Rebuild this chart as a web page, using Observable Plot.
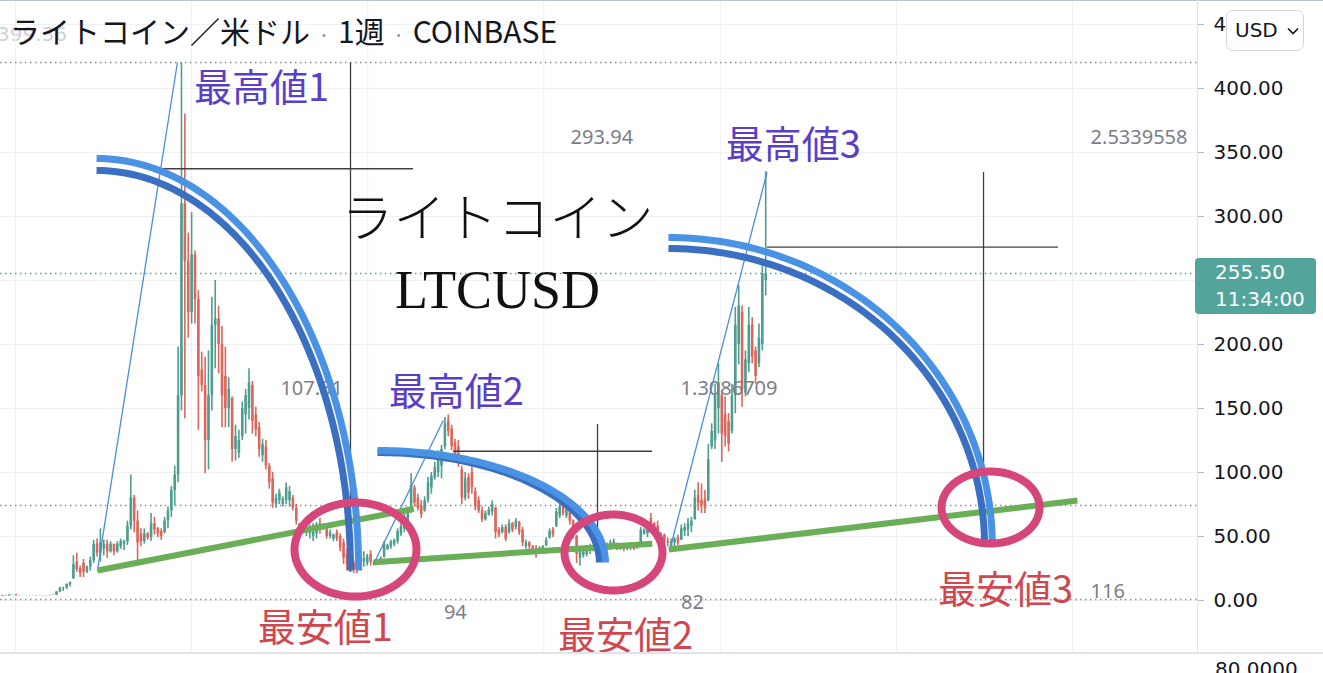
<!DOCTYPE html>
<html>
<head>
<meta charset="utf-8">
<script src="https://cdn.jsdelivr.net/npm/d3@7"></script>
<script src="https://cdn.jsdelivr.net/npm/@observablehq/plot@0.6"></script>
<style>
  html, body { margin: 0; padding: 0; background: #fff; }
  #wrap { position: relative; width: 1323px; height: 673px; overflow: hidden; background: #fff; }
  #wrap > svg { position: absolute; left: 0; top: 0; }
  #ghost { position: absolute; left: -3px; top: 22px; font: 20px "DejaVu Sans", sans-serif; color: #cfd1d6; }
  #title { position: absolute; left: 10px; top: 15px; font: 30px/30px "Noto Sans CJK JP", "Noto Sans", sans-serif; color: #131722; white-space: nowrap; }
  #title .sep { display: inline-block; width: 28px; text-align: center; color: #9598a1; font-size: 22px; }
  #usd { position: absolute; left: 1226px; top: 10px; width: 76px; height: 39px; border: 1px solid #d6d8de; border-radius: 7px; background: #fff;
         font: 20px/39px "DejaVu Sans", sans-serif; color: #131722; box-sizing: content-box; }
  #usd span { position: absolute; left: 8px; top: 0; }
  #usd svg { position: absolute; left: 60px; top: 16px; }
  #pricebox { position: absolute; left: 1195px; width: 121px; height: 56px; background: #53a59b; border-radius: 4px; color: #fff;
              font: 20px "DejaVu Sans", sans-serif; }
  #pricebox div { position: absolute; left: 20px; line-height: 20px; }
  #sub { position: absolute; left: 1215px; top: 659px; font: 20px/20px "DejaVu Sans", sans-serif; color: #131722; }
  .hsep { position: absolute; left: 0; top: 652px; width: 1323px; height: 2px; background: #e0e3eb; }
  .vsep { position: absolute; left: 1197px; top: 0; width: 1px; height: 652px; background: #e0e3eb; }
  .topline { position: absolute; left: 0; top: 0; width: 1323px; height: 1px; background: #b9c6cd; }
</style>
</head>
<body>
<div id="wrap">
  <div id="ghost">399.36</div>
</div>
<script>
// ---------- weekly OHLC, LTC/USD (Coinbase), first bar = week of 2016-11-28 ----------
const firstWeek = "2016-11-28";
const opens = [
  3.9,3.9,3.5,3.6,4.4,4.4,3.8,3.9,3.9,3.85,3.8,3.8,3.9,3.8,3.9,3.8,4.0,
  4.1,6.6,9.5,9.8,12.5,17,30,25,29,22,26,31,44,37,40,44,38,44,38,42,44,46,58,80,62,52,46,52,49,60,56,54,53,62,70,86,98,160,310,265,
  225,270,235,180,168,125,160,215,220,200,175,150,158,118,115,128,145,150,168,145,135,113,120,105,95,75,78,75,78,78,80,72,60,55,53,52,50,52,60,59,56,50,48,53,50,45,36,31,29,28,
  24,30,29,36,28,29.5,30,34,40,42,44,46,52,56,60,70,88,80,74,70,78,88,96,100,105,120,140,134,123,120,102,80,96,100,85,78,70,63,67,69,72,55,53,57,53,60,57,61,55,42,
  45,42,40,39,40,43,49,55,58,66,75,66,74,62,50,33,35,36,39,40,41,43,46,44,41,42,44,43,42,40,41,43,41,44,52,52,64,60,58,47,51,46,42,45,49,47,54,55,58,63,
  82,78,80,78,120,125,150,160,145,140,132,160,200,225,162,185,215,195,185,200,250
];
const highs = [
  4.1,4.0,3.8,4.5,4.6,4.6,4.0,4.0,4.0,4.0,3.9,4.0,3.95,4.0,4.0,4.0,4.2,
  7.0,10.4,10.4,13,14.5,35,37,27,32,27,34,47,48,56,47,47,46,44,46,48,47,62,98,82,70,56,56,53,68,65,57,56,65,73,89,105,198,420,380,287,
  303,273,242,194,190,195,237,250,230,214,198,174,159,137,133,155,165,181,171,151,139,126,125,107,100,83,87,81,92,89,82,75,60,58,57,59,60,61,64,60,57,55,52,55,52,48,40,34,31,31,
  36,38,36,39,31,32,34,46,44,47,48,56,60,68,73,99,90,83,78,81,96,100,108,117,121,143,145,137,126,125,105,100,99,105,88,81,73,70,73,78,73,57,59,59,63,61,64,62,57,47,
  46,43,43,42,43,49,56,57,72,76,82,77,78,63,51,42,40,43,44,43,45,47,47,45,47,48,45,44,43,44,45,43.5,45,57,56,58,68,61,62,53,52,49,48,49,51,59,60,64,65,86,
  92,91,86,122,138,169,185,164,159,146,169,229,246,230,195,229,221,198,216,262,335
];
const lows = [
  3.8,3.4,3.4,3.6,4.2,3.6,3.7,3.8,3.8,3.7,3.7,3.7,3.7,3.8,3.7,3.7,3.9,
  4.0,6.0,7.0,8.5,10.5,16.5,22,18,18,21,23,29,34,30,35,33,37,35,37,40,39,43,55,53,31,42,44,47,46,51,49,47,52,56,65,74,92,148,142,205,
  216,216,133,163,99,102,148,181,177,135,135,135,108,109,111,125,130,141,130,128,112,108,102,87,72,72,75,73,75,73,70,59,52,52,50,48,46,48,52,55,48,48,46,46,38,28,23,22,21,21,
  23,26,27,27,27,29,29,33,39,40,42,44,50,53,57,68,73,70,64,69,76,83,94,96,95,118,128,117,107,104,75,78,79,83,70,68,61,62,66,66,48,49,52,46,52,53,55,51,42,40,
  40,36,33,38,38,42,48,49,57,64,66,64,59,48,29,27,33,34,36,38,39,40,40,39,39,40,39,39,38,39,39,39,40,43,51,49,56,53,49,45,44,42,40,42,43,47,50,50,53,63,
  70,68,68,77,118,118,130,108,120,116,130,146,184,151,159,178,185,169,182,195,238
];
const closes = [
  3.9,3.5,3.6,4.4,4.4,3.8,3.9,3.9,3.85,3.8,3.8,3.9,3.8,3.9,3.8,4.0,4.1,
  6.6,9.5,9.8,12.5,14,28,24,21,22,26,31,44,37,45,44,38,44,38,44,46,46,58,80,62,45,46,52,49,60,55,52,50,62,70,86,98,160,310,265,225,
  270,235,175,168,125,160,215,220,200,160,150,165,118,128,125,150,160,170,140,133,118,122,105,92,76,80,84,79,88,85,72,62,55,57,56,57,58,59,55,56,50,53,51,48,41,33,28,26,24,24,
  33,33,34,30,30,31,33,44,43,46,47,54,58,64,70,90,76,72,67,78,92,97,104,112,118,138,132,120,110,108,80,95,84,88,73,70,63,68,71,75,53,51,57,48,60,55,62,53,45,45,
  42,38,36,41,42,47,54,51,69,73,68,74,62,50,36,39,38,41,42,42,44,46,42,41,45,46,41,40,40,43,44,40,44,55,55,56,58,55,50,51,46,45,46,48,45,56,57,60,62,80,
  76,74,72,110,132,160,170,130,128,122,160,215,230,165,188,215,190,175,205,255,255.5
];

// ---------- axis / reference values ----------
const priceTicks = [0, 50, 100, 150, 200, 250, 300, 350, 400, 450];
const axisTicks = [0, 50, 100, 150, 200, 300, 350, 400, 450];
const yearLines = ["2017-01-01","2018-01-01","2019-01-01","2020-01-01","2021-01-01","2022-01-01","2023-01-01"];
const levelLines = [420.3, 74.2, 0.8];
const lastPrice = 255.5;

// ---------- drawings (x in weeks after 2017-01-02, y in USD) ----------
const rallyLines = [
  {k1: 24.1, v1: 23.4, k2: 47.8, v2: 420.3},
  {k1: 105.95, v1: 28.7, k2: 126.5, v2: 140.6},
  {k1: 193.8, v1: 41.6, k2: 222.4, v2: 334.6}
];
const supportLines = [
  {k1: 24.1, v1: 23.4, k2: 117.8, v2: 71.6},
  {k1: 105.95, v1: 29.9, k2: 188.4, v2: 44.3},
  {k1: 193.3, v1: 39.8, k2: 314.3, v2: 78.1}
];
const crossV = [
  {k: 99.05, v1: 420, v2: 22},
  {k: 172.2, v1: 137.5, v2: 31},
  {k: 286.5, v1: 334.4, v2: 101.6}
];
const crossH = [
  {v: 337.3, k1: 42.8, k2: 117.7},
  {v: 116.6, k1: 129.5, k2: 188.5},
  {v: 276, k1: 222.5, k2: 308.7}
];
const arcs = [
  {k: 23.85, v: 23.44, rk: 75.2, rv: 312.5, tone: "#3b6fc2"},
  {k: 107.05, v: 29.69, rk: 65.7, rv: 85.9, tone: "#3b6fc2"},
  {k: 193.2, v: 42.97, rk: 93.6, rv: 232.0, tone: "#3b6fc2"},
  {k: 23.85, v: 23.44, rk: 77.6, rv: 321.9, tone: "#4a92e3"},
  {k: 107.05, v: 29.69, rk: 67.5, rv: 87.5, tone: "#4a92e3"},
  {k: 193.2, v: 42.97, rk: 95.9, rv: 240.6, tone: "#4a92e3"}
];
const rings = [
  {k: 100.53, v: 39.84, rk: 18.06, rv: 36.72},
  {k: 176.93, v: 37.5, rk: 14.51, rv: 29.69},
  {k: 288.57, v: 72.66, rk: 14.51, rv: 28.13}
];
const peakLabels = [
  {k: 72.7, v: 400, text: "最高値1"},
  {k: 130.4, v: 162.5, text: "最高値2"},
  {k: 230.2, v: 355.5, text: "最高値3"}
];
const lowLabels = [
  {k: 91.6, v: -21.9, text: "最安値1"},
  {k: 180.5, v: -28.1, text: "最安値2"},
  {k: 293.0, v: 7.8, text: "最安値3"}
];
const toolValuesLeft = [
  {k: 78.3, v: 165.6, text: "107.31"},
  {k: 164.2, v: 361.7, text: "293.94"},
  {k: 318.2, v: 361.7, text: "2.5339558"},
  {k: 196.8, v: 165.6, text: "1.3086709"},
  {k: 318.2, v: 7.0, text: "116"}
];
const toolValuesMid = [
  {k: 130.1, v: -9.4, text: "94"},
  {k: 200.3, v: -1.8, text: "82"}
];
const bigTitle = [{k: 142.6, v: 296.9, text: "ライトコイン"}];
const bigSymbol = [{k: 142.6, v: 242.2, text: "LTCUSD"}];

// ---------- build ----------
const WEEK = 7 * 864e5;
const refWeek = Date.UTC(2017, 0, 2);
const wk = k => new Date(refWeek + k * WEEK);
const t0 = Date.parse(firstWeek + "T00:00:00Z");
const UP = "#4f9d90", DOWN = "#db665b";

const candles = opens.map((o, i) => ({
  date: new Date(t0 + i * WEEK), open: o, high: highs[i], low: lows[i], close: closes[i],
  col: closes[i] >= o ? UP : DOWN
}));

const arcPts = arcs.flatMap((a, i) => d3.range(0, 81).map(j => {
  const t = Math.PI / 2 * (1 - j / 80);
  return {id: i, x: wk(a.k + a.rk * Math.cos(t)), y: a.v + a.rv * Math.sin(t), c: a.tone};
}));
const ringPts = rings.flatMap((r, i) => d3.range(0, 120).map(j => {
  const t = 2 * Math.PI * j / 120;
  return {id: i, x: wk(r.k + r.rk * Math.cos(t)), y: r.v + r.rv * Math.sin(t)};
}));

const JP = "Noto Sans CJK JP";
const plot = Plot.plot({
  width: 1323, height: 673,
  marginLeft: 0, marginRight: 126, marginTop: 0, marginBottom: 21,
  x: {type: "utc", domain: [wk(-4.59), wk(349.86)], axis: null},
  y: {domain: [-40.625, 468.75], axis: null},
  color: {type: "identity"},
  style: {fontFamily: "DejaVu Sans, sans-serif", background: "transparent", overflow: "visible"},
  marks: [
    Plot.gridY(priceTicks, {stroke: "#eef0f4", strokeOpacity: 1}),
    Plot.gridX(yearLines.map(s => new Date(s)), {stroke: "#eef0f4", strokeOpacity: 1}),
    Plot.ruleY(levelLines, {stroke: "#8a8d96", strokeDasharray: "1.5,3.5", strokeWidth: 1.4}),
    Plot.ruleY([lastPrice], {stroke: "#53a59b", strokeDasharray: "1.5,3.5", strokeWidth: 1.4}),
    Plot.ruleX(candles, {x: "date", y1: "low", y2: "high", stroke: "col", strokeWidth: 1.6}),
    Plot.ruleX(candles, {x: "date", y1: "open", y2: "close", stroke: "col", strokeWidth: 2.6}),
    Plot.text(toolValuesLeft, {x: d => wk(d.k), y: "v", text: "text", textAnchor: "start", fill: "#7b7e87", fontSize: 20, fontFamily: "Noto Sans"}),
    Plot.text(toolValuesMid, {x: d => wk(d.k), y: "v", text: "text", textAnchor: "middle", fill: "#7b7e87", fontSize: 20, fontFamily: "Noto Sans"}),
    Plot.ruleX(crossV, {x: d => wk(d.k), y1: "v1", y2: "v2", stroke: "#3f3f3f", strokeWidth: 1.3}),
    Plot.ruleY(crossH, {y: "v", x1: d => wk(d.k1), x2: d => wk(d.k2), stroke: "#3f3f3f", strokeWidth: 1.3}),
    Plot.link(rallyLines, {x1: d => wk(d.k1), y1: "v1", x2: d => wk(d.k2), y2: "v2", stroke: "#4a8fd6", strokeWidth: 1.3}),
    Plot.link(supportLines, {x1: d => wk(d.k1), y1: "v1", x2: d => wk(d.k2), y2: "v2", stroke: "#6aae58", strokeWidth: 6, strokeLinecap: "butt"}),
    Plot.text(bigTitle, {x: d => wk(d.k), y: "v", text: "text", fill: "#111", fontSize: 52, fontFamily: JP, fontWeight: 300}),
    Plot.text(bigSymbol, {x: d => wk(d.k), y: "v", text: "text", fill: "#111", fontSize: 54, fontFamily: "Liberation Serif"}),
    Plot.line(arcPts, {x: "x", y: "y", z: "id", stroke: "c", strokeWidth: 7, strokeLinecap: "butt"}),
    Plot.line(ringPts, {x: "x", y: "y", z: "id", stroke: "#d5467b", strokeWidth: 8, curve: "linear-closed"}),
    Plot.text(peakLabels, {x: d => wk(d.k), y: "v", text: "text", fill: "#5a3fc6", fontSize: 38, fontFamily: JP}),
    Plot.text(lowLabels, {x: d => wk(d.k), y: "v", text: "text", fill: "#d2474f", fontSize: 38, fontFamily: JP}),
    Plot.axisY(axisTicks, {anchor: "right", tickFormat: d => d.toFixed(2), tickSize: 6, tickPadding: 10, fontSize: 20, fill: "#131722", stroke: "#b7bac2"})
  ]
});

const wrap = document.getElementById("wrap");
wrap.appendChild(plot);

const yScale = plot.scale("y");
const py = yScale.apply(lastPrice);

wrap.insertAdjacentHTML("beforeend", `
  <div class="topline"></div>
  <div class="vsep"></div>
  <div class="hsep"></div>
  <div id="title">ライトコイン／米ドル<span class="sep">·</span>1週<span class="sep">·</span>COINBASE</div>
  <div id="usd"><span>USD</span><svg width="12" height="8"><path d="M1 1.5 L6 6.5 L11 1.5" stroke="#131722" stroke-width="1.6" fill="none"/></svg></div>
  <div id="pricebox" style="top:${py - 15}px"><div style="top:4px">255.50</div><div style="top:31px">11:34:00</div></div>
  <div id="sub">80.0000</div>
`);
</script>
</body>
</html>
